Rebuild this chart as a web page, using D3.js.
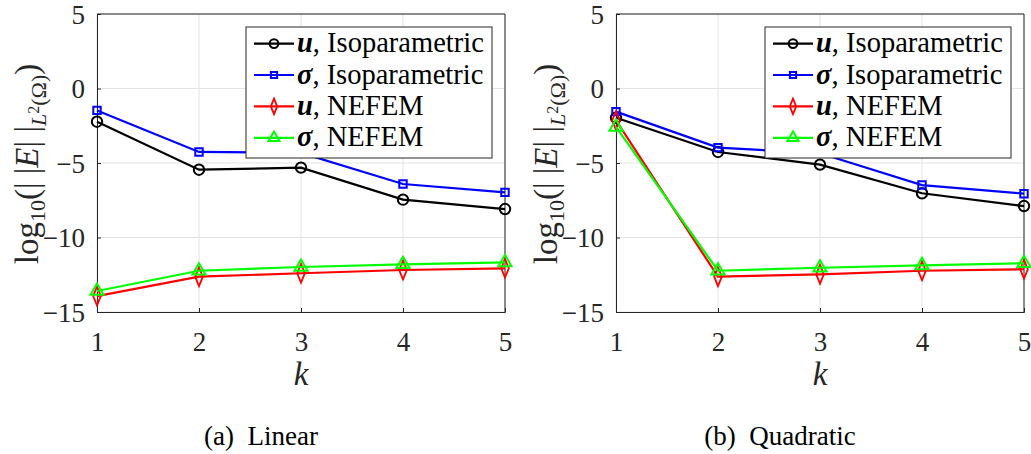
<!DOCTYPE html>
<html lang="en">
<head>
<meta charset="UTF-8">
<script src="https://d3js.org/d3.v7.min.js"></script>
<style>
body { margin: 0; background: #fff; }
svg { display: block; }
text { font-family: "Liberation Serif", "DejaVu Serif", serif; fill: #262626; }
</style>
</head>
<body>
<svg id="chart" width="1031" height="454"></svg>
<script>
// data
const kValues = [1, 2, 3, 4, 5];
const yTicks = [5, 0, -5, -10, -15];

const linUIso = [-2.23, -5.45, -5.31, -7.46, -8.09];
const linSigIso = [-1.47, -4.26, -4.32, -6.41, -6.97];
const linUNefem = [-13.93, -12.63, -12.40, -12.18, -12.07];
const linSigNefem = [-13.59, -12.23, -11.98, -11.80, -11.67];

const quadUIso = [-1.96, -4.26, -5.11, -7.03, -7.89];
const quadSigIso = [-1.55, -3.97, -4.35, -6.48, -7.06];
const quadUNefem = [-2.14, -12.63, -12.47, -12.23, -12.13];
const quadSigNefem = [-2.58, -12.23, -12.03, -11.87, -11.73];

const seriesNames = ['u', 'σ', 'u', 'σ'];
const seriesMethods = ['Isoparametric', 'Isoparametric', 'NEFEM', 'NEFEM'];
const seriesColors = ['#000000', '#0000ff', '#ff0000', '#00ff00'];
const seriesMarkers = [d3.symbolCircle, d3.symbolSquare, d3.symbolDiamond, d3.symbolTriangle];
const markerSizes = [85, 55, 70, 75];

const svg = d3.select('#chart');

let drawPanel = (left, values, caption) => {
    const x = d3.scaleLinear().domain([1, 5]).range([left, left + 408]);
    const y = d3.scaleLinear().domain([-15, 5]).range([312, 14]);
    const g = svg.append('g');

    // grid
    g.selectAll('.vgrid').data(kValues).enter().append('line')
        .attr('x1', d => x(d)).attr('x2', d => x(d))
        .attr('y1', y(5)).attr('y2', y(-15))
        .attr('stroke', '#e3e3e3').attr('stroke-width', 1);
    g.selectAll('.hgrid').data(yTicks).enter().append('line')
        .attr('x1', x(1)).attr('x2', x(5))
        .attr('y1', d => y(d)).attr('y2', d => y(d))
        .attr('stroke', '#e3e3e3').attr('stroke-width', 1);

    // axes (ticks inward)
    const xAxis = d3.axisBottom(x).tickValues(kValues).tickSize(-4).tickFormat(d3.format('d'));
    const yAxis = d3.axisLeft(y).tickValues(yTicks).tickSize(-4).tickFormat(d => d < 0 ? '\u2212' + Math.abs(d) : d);
    const xg = g.append('g').attr('transform', 'translate(0,' + y(-15) + ')').call(xAxis);
    const yg = g.append('g').attr('transform', 'translate(' + x(1) + ',0)').call(yAxis);
    [xg, yg].forEach(a => {
        a.attr('font-size', null).attr('font-family', null);
        a.select('.domain').attr('stroke', '#262626');
        a.selectAll('.tick line').attr('stroke', '#262626');
        a.selectAll('text').style('font-size', '27px').style('fill', '#262626');
    });
    xg.selectAll('text').attr('y', 39).attr('dy', 0);
    yg.selectAll('text').attr('x', -12).attr('dy', 9);
    // top and right box edges
    g.append('line').attr('x1', x(1)).attr('x2', x(5)).attr('y1', y(5)).attr('y2', y(5)).attr('stroke', '#262626');
    g.append('line').attr('x1', x(5)).attr('x2', x(5)).attr('y1', y(5)).attr('y2', y(-15)).attr('stroke', '#262626');

    // lines and markers
    const line = d3.line().x((d, i) => x(kValues[i])).y(d => y(d));
    values.forEach((vals, s) => {
        g.append('path').datum(vals).attr('d', line)
            .attr('fill', 'none').attr('stroke', seriesColors[s]).attr('stroke-width', 2.2);
        g.selectAll('.m' + s).data(vals).enter().append('path')
            .attr('transform', (d, i) => 'translate(' + x(kValues[i]) + ',' + y(d) + ')' + (s === 2 ? ' scale(0.85,1.2)' : ''))
            .attr('d', d3.symbol().type(seriesMarkers[s]).size(markerSizes[s]))
            .attr('fill', 'none').attr('stroke', seriesColors[s]).attr('stroke-width', 2);
    });

    // axis titles
    g.append('text').attr('x', x(3)).attr('y', 385).attr('text-anchor', 'middle')
        .style('font-size', '33px').attr('font-style', 'italic').text('k');
    const yl = g.append('text').attr('transform', 'translate(' + (left - 59) + ',' + 164 + ') rotate(-90)')
        .attr('text-anchor', 'middle').style('font-size', '33px');
    yl.append('tspan').text('log');
    yl.append('tspan').style('font-size', '22px').attr('dy', 7).text('10');
    yl.append('tspan').attr('dy', -7).text('(| |');
    yl.append('tspan').attr('font-style', 'italic').text('E');
    yl.append('tspan').text('| |');
    yl.append('tspan').style('font-size', '22px').attr('dy', 8).attr('font-style', 'italic').text('L');
    yl.append('tspan').style('font-size', '16px').attr('dy', -7).text('2');
    yl.append('tspan').style('font-size', '22px').attr('dy', 7).text('(Ω)');
    yl.append('tspan').attr('dy', -8).text(')');

    // legend
    const lx = x(5) - 259, ly = 27;
    g.append('rect').attr('x', lx).attr('y', ly).attr('width', 246).attr('height', 131)
        .attr('fill', '#fff').attr('stroke', '#262626').attr('stroke-width', 1);
    seriesNames.forEach((nm, s) => {
        const cy = ly + 16.6 + s * 31.4;
        g.append('line').attr('x1', lx + 8).attr('x2', lx + 48).attr('y1', cy).attr('y2', cy)
            .attr('stroke', seriesColors[s]).attr('stroke-width', 2.2);
        g.append('path').attr('transform', 'translate(' + (lx + 28) + ',' + cy + ')' + (s === 2 ? ' scale(0.85,1.2)' : ''))
            .attr('d', d3.symbol().type(seriesMarkers[s]).size(markerSizes[s] * 0.7))
            .attr('fill', 'none').attr('stroke', seriesColors[s]).attr('stroke-width', 2);
        const t = g.append('text').attr('x', lx + 51).attr('y', cy + 8.5).style('font-size', '28.5px').style('fill', '#000');
        t.append('tspan').attr('font-weight', 'bold').attr('font-style', 'italic').text(nm);
        t.append('tspan').text(', ' + seriesMethods[s]);
    });

    // caption
    g.append('text').attr('x', x(3) - 40).attr('y', 445).attr('text-anchor', 'middle')
        .style('font-size', '27px').style('fill', '#000').attr('xml:space', 'preserve').text(caption);
};

drawPanel(97, [linUIso, linSigIso, linUNefem, linSigNefem], '(a)  Linear');
drawPanel(616, [quadUIso, quadSigIso, quadUNefem, quadSigNefem], '(b)  Quadratic');
</script>
</body>
</html>
